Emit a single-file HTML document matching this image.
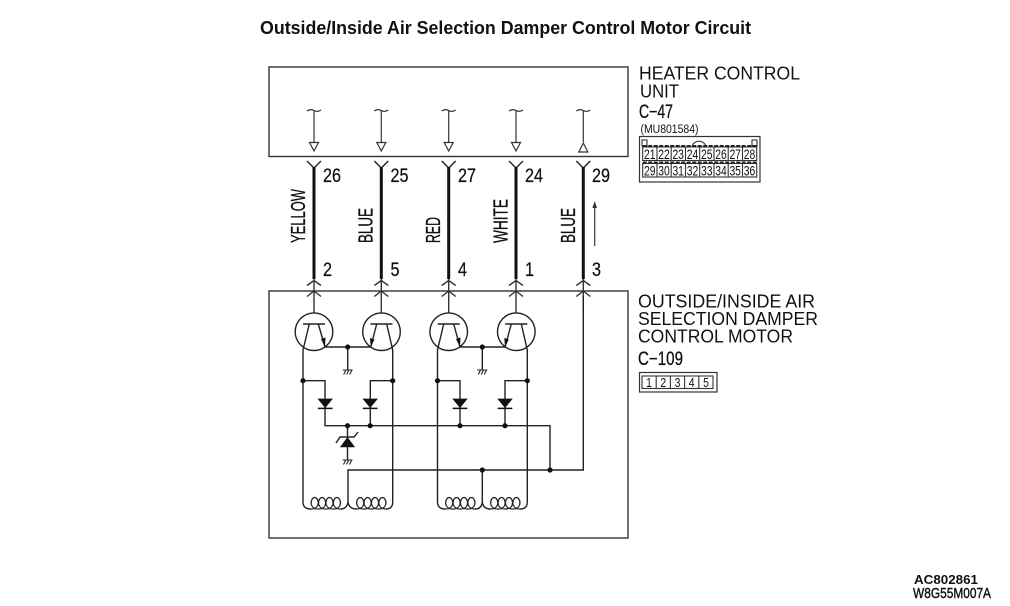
<!DOCTYPE html>
<html><head><meta charset="utf-8"><style>
html,body{margin:0;padding:0;background:#fff;width:1010px;height:606px;overflow:hidden}
svg{display:block}
text{font-family:"Liberation Sans",sans-serif;fill:#111}
.n{font-size:19px;stroke:#111;stroke-width:.25}
.s{font-size:13.5px}
.d{font-size:13px}
.l{font-size:18px}
.c{font-size:20.5px;stroke:#111;stroke-width:.3}
</style></head><body>
<svg width="1010" height="606" viewBox="0 0 1010 606" xmlns="http://www.w3.org/2000/svg">
<defs>
<g id="sig" fill="none" stroke="#333" stroke-width="1.2">
<path d="M-7,111 Q-3.5,108.5 0,110.5 Q3.5,112.5 7,110"/>
<path d="M0,111V142"/>
</g>
<path id="tdown" d="M-4.5,142.5H4.5L0,151Z" fill="#fff" stroke="#333" stroke-width="1.2"/>
<g id="wire">
<path d="M-7,161L0,168L7,161" fill="none" stroke="#222" stroke-width="1.4"/>
<path d="M0,167V279" stroke="#111" stroke-width="3"/>
<path d="M-7,285.5L0,280.5L7,285.5M-7,296.5L0,291L7,296.5M0,279V313" fill="none" stroke="#333" stroke-width="1.4"/>
</g>
<g id="tr" fill="none" stroke="#222" stroke-width="1.4">
<circle cx="0" cy="331.7" r="18.8"/>
<path d="M-11,324H11"/>
</g>
<path id="dio" d="M-7,399H7L0,407.5Z M-7,408H7V408.8H-7Z" fill="#111" stroke="#111" stroke-width=".7"/>
<g id="gnd" stroke="#222" stroke-width="1.1" fill="none">
<path d="M-5,0H5M-4,4.5L-2,0.5M-1,4.5L1,0.5M2,4.5L4,0.5"/>
</g>
<path id="coil" fill="none" stroke="#222" stroke-width="1.3" d="M0,509C10,509 8,497.5 3.7,497.5C-.6,497.5 -2.6,509 7.4,509C17.4,509 15.4,497.5 11.1,497.5C6.8,497.5 4.8,509 14.8,509C24.8,509 22.8,497.5 18.5,497.5C14.2,497.5 12.2,509 22.2,509C32.2,509 30.2,497.5 25.9,497.5C21.6,497.5 19.6,509 29.6,509"/>
</defs>

<text x="260" y="34" font-size="18" font-weight="bold" textLength="491" lengthAdjust="spacingAndGlyphs">Outside/Inside Air Selection Damper Control Motor Circuit</text>

<!-- boxes -->
<rect x="269" y="67" width="359" height="89.5" fill="none" stroke="#333" stroke-width="1.4"/>
<rect x="269" y="291" width="359" height="247" fill="none" stroke="#333" stroke-width="1.4"/>

<!-- signal arrows -->
<use href="#sig" x="314"/><use href="#tdown" x="314"/>
<use href="#sig" x="381.3"/><use href="#tdown" x="381.3"/>
<use href="#sig" x="448.7"/><use href="#tdown" x="448.7"/>
<use href="#sig" x="516"/><use href="#tdown" x="516"/>
<use href="#sig" x="583.3"/>
<path d="M583.3,143L587.8,152H578.8Z" fill="#fff" stroke="#333" stroke-width="1.2"/>

<!-- wires -->
<use href="#wire" x="314"/><use href="#wire" x="381.3"/><use href="#wire" x="448.7"/><use href="#wire" x="516"/><use href="#wire" x="583.3"/>

<!-- pin numbers -->
<text class="n" x="323" y="182" textLength="18" lengthAdjust="spacingAndGlyphs">26</text>
<text class="n" x="390.5" y="182" textLength="18" lengthAdjust="spacingAndGlyphs">25</text>
<text class="n" x="458" y="182" textLength="18" lengthAdjust="spacingAndGlyphs">27</text>
<text class="n" x="525" y="182" textLength="18" lengthAdjust="spacingAndGlyphs">24</text>
<text class="n" x="592" y="182" textLength="18" lengthAdjust="spacingAndGlyphs">29</text>
<text class="n" x="323" y="276" textLength="9" lengthAdjust="spacingAndGlyphs">2</text>
<text class="n" x="390.5" y="276" textLength="9" lengthAdjust="spacingAndGlyphs">5</text>
<text class="n" x="458" y="276" textLength="9" lengthAdjust="spacingAndGlyphs">4</text>
<text class="n" x="525" y="276" textLength="9" lengthAdjust="spacingAndGlyphs">1</text>
<text class="n" x="592" y="276" textLength="9" lengthAdjust="spacingAndGlyphs">3</text>

<!-- wire colours -->
<text class="c" transform="translate(305,243) rotate(-90)" textLength="54" lengthAdjust="spacingAndGlyphs">YELLOW</text>
<text class="c" transform="translate(372.5,243) rotate(-90)" textLength="35" lengthAdjust="spacingAndGlyphs">BLUE</text>
<text class="c" transform="translate(440,243) rotate(-90)" textLength="26" lengthAdjust="spacingAndGlyphs">RED</text>
<text class="c" transform="translate(507.5,243) rotate(-90)" textLength="44" lengthAdjust="spacingAndGlyphs">WHITE</text>
<text class="c" transform="translate(575,243) rotate(-90)" textLength="35" lengthAdjust="spacingAndGlyphs">BLUE</text>

<!-- direction arrow -->
<path d="M594.7,246V204" stroke="#333" stroke-width="1.2"/>
<path d="M594.7,201L597,208H592.4Z" fill="#333"/>

<!-- transistors -->
<use href="#tr" x="314"/><use href="#tr" x="381.5"/><use href="#tr" x="448.7"/><use href="#tr" x="516.3"/>

<g fill="none" stroke="#222" stroke-width="1.4">
<!-- left pair -->
<path d="M309.3,324L303,350V502Q303,509 311,509"/>
<path d="M318.3,324L325,347H370.7L376.7,324"/>
<path d="M386.7,324L392.7,350V502Q392.7,509 386,509"/>
<path d="M347.7,347V370"/>
<path d="M303,380.7H325V425.7H370"/>
<path d="M392.7,380.7H370.3V425.7"/>
<path d="M340.6,509Q347,509 348,502Q349,509 356.5,509"/>
<!-- right pair -->
<path d="M443.7,324L437.5,350V502Q437.5,509 445.5,509"/>
<path d="M453.7,324L460,347H505L511.3,324"/>
<path d="M521.3,324L527.3,350V502Q527.3,509 520,509"/>
<path d="M482.3,347V370"/>
<path d="M437.5,380.7H460V425.7"/>
<path d="M527.3,380.7H505V425.7"/>
<path d="M475.1,509Q481.5,509 482.3,502Q483,509 490.5,509"/>
<!-- bus -->
<path d="M370,425.7H550V470"/>
<path d="M348,502V470H583.3V296"/>
<path d="M482.3,470V502"/>
<path d="M347.5,426V437M347.5,447V460"/>
<path d="M336,443L340,437H354L358,432"/>
</g>

<!-- transistor emitter arrows -->
<path d="M325,347L321,339L325.5,337.5Z" fill="#111"/>
<path d="M370.7,347L370,338L374.5,339.5Z" fill="#111"/>
<path d="M460,347L456,339L460.5,337.5Z" fill="#111"/>
<path d="M505,347L504.3,338L508.8,339.5Z" fill="#111"/>

<!-- diodes -->
<use href="#dio" x="325.2"/><use href="#dio" x="370.2"/><use href="#dio" x="460"/><use href="#dio" x="505"/>
<path d="M347.5,437.5L354.5,447H340.5Z" fill="#111" stroke="#111" stroke-width=".6"/>

<!-- grounds -->
<use href="#gnd" x="347.7" y="370"/>
<use href="#gnd" x="482.3" y="370"/>
<use href="#gnd" x="347.5" y="460"/>

<!-- coils -->
<use href="#coil" x="311"/><use href="#coil" x="356.5"/>
<use href="#coil" x="445.5"/><use href="#coil" x="490.5"/>

<!-- junction dots -->
<g fill="#111">
<circle cx="347.7" cy="347" r="2.6"/><circle cx="482.3" cy="347" r="2.6"/>
<circle cx="303" cy="380.7" r="2.6"/><circle cx="392.7" cy="380.7" r="2.6"/>
<circle cx="437.5" cy="380.7" r="2.6"/><circle cx="527.3" cy="380.7" r="2.6"/>
<circle cx="347.5" cy="425.7" r="2.6"/><circle cx="370.2" cy="425.7" r="2.6"/>
<circle cx="460" cy="425.7" r="2.6"/><circle cx="505" cy="425.7" r="2.6"/>
<circle cx="482.3" cy="470" r="2.6"/><circle cx="550" cy="470" r="2.6"/>
</g>

<!-- right labels -->
<text class="l" x="639" y="79.5" textLength="161" lengthAdjust="spacingAndGlyphs">HEATER CONTROL</text>
<text class="l" x="640" y="97.5" textLength="39" lengthAdjust="spacingAndGlyphs">UNIT</text>
<text x="639" y="118" font-size="19" stroke="#111" stroke-width=".3" textLength="34" lengthAdjust="spacingAndGlyphs">C−47</text>
<text x="640.5" y="133" font-size="11.5" textLength="58" lengthAdjust="spacingAndGlyphs">(MU801584)</text>

<!-- C-47 connector -->
<rect x="639.5" y="136.5" width="120.5" height="45.5" fill="none" stroke="#333" stroke-width="1.2"/>
<g fill="none" stroke="#333" stroke-width="1.1">
<rect x="642" y="140" width="5" height="6"/><rect x="752" y="140" width="5" height="6"/>
<path d="M692,146A7.5,7.5 0 0 1 706,146"/>
<rect x="642.7" y="147" width="114" height="13.5"/>
<rect x="642.7" y="163.5" width="114" height="13.5"/>
<path d="M657,147V160.5M671.2,147V160.5M685.5,147V160.5M699.7,147V160.5M714,147V160.5M728.2,147V160.5M742.5,147V160.5"/>
<path d="M657,163.5V177M671.2,163.5V177M685.5,163.5V177M699.7,163.5V177M714,163.5V177M728.2,163.5V177M742.5,163.5V177"/>
</g>
<path d="M642.7,146H756.7M642.7,162.5H756.7" stroke="#222" stroke-width="2" stroke-dasharray="4 1.5"/>
<g text-anchor="middle">
<text class="s" x="649.8" y="159" textLength="11.5" lengthAdjust="spacingAndGlyphs">21</text><text class="s" x="664" y="159" textLength="11.5" lengthAdjust="spacingAndGlyphs">22</text><text class="s" x="678.2" y="159" textLength="11.5" lengthAdjust="spacingAndGlyphs">23</text><text class="s" x="692.5" y="159" textLength="11.5" lengthAdjust="spacingAndGlyphs">24</text><text class="s" x="706.8" y="159" textLength="11.5" lengthAdjust="spacingAndGlyphs">25</text><text class="s" x="721" y="159" textLength="11.5" lengthAdjust="spacingAndGlyphs">26</text><text class="s" x="735.2" y="159" textLength="11.5" lengthAdjust="spacingAndGlyphs">27</text><text class="s" x="749.5" y="159" textLength="11.5" lengthAdjust="spacingAndGlyphs">28</text>
<text class="s" x="649.8" y="175.5" textLength="11.5" lengthAdjust="spacingAndGlyphs">29</text><text class="s" x="664" y="175.5" textLength="11.5" lengthAdjust="spacingAndGlyphs">30</text><text class="s" x="678.2" y="175.5" textLength="11.5" lengthAdjust="spacingAndGlyphs">31</text><text class="s" x="692.5" y="175.5" textLength="11.5" lengthAdjust="spacingAndGlyphs">32</text><text class="s" x="706.8" y="175.5" textLength="11.5" lengthAdjust="spacingAndGlyphs">33</text><text class="s" x="721" y="175.5" textLength="11.5" lengthAdjust="spacingAndGlyphs">34</text><text class="s" x="735.2" y="175.5" textLength="11.5" lengthAdjust="spacingAndGlyphs">35</text><text class="s" x="749.5" y="175.5" textLength="11.5" lengthAdjust="spacingAndGlyphs">36</text>
</g>

<text class="l" x="638" y="307.5" textLength="177" lengthAdjust="spacingAndGlyphs">OUTSIDE/INSIDE AIR</text>
<text class="l" x="638" y="325" textLength="180" lengthAdjust="spacingAndGlyphs">SELECTION DAMPER</text>
<text class="l" x="638" y="342.5" textLength="155" lengthAdjust="spacingAndGlyphs">CONTROL MOTOR</text>
<text x="638" y="365" font-size="19" stroke="#111" stroke-width=".3" textLength="45" lengthAdjust="spacingAndGlyphs">C−109</text>

<!-- C-109 connector -->
<rect x="639.5" y="372.5" width="77.5" height="19.5" fill="none" stroke="#333" stroke-width="1.2"/>
<rect x="642" y="376" width="71" height="12.5" fill="none" stroke="#333" stroke-width="1.1"/>
<path d="M656.2,376V388.5M670.4,376V388.5M684.6,376V388.5M698.8,376V388.5" stroke="#333" stroke-width="1.1"/>
<g text-anchor="middle">
<text class="d" x="649" y="387" textLength="5.8" lengthAdjust="spacingAndGlyphs">1</text><text class="d" x="663.3" y="387" textLength="5.8" lengthAdjust="spacingAndGlyphs">2</text><text class="d" x="677.5" y="387" textLength="5.8" lengthAdjust="spacingAndGlyphs">3</text><text class="d" x="691.7" y="387" textLength="5.8" lengthAdjust="spacingAndGlyphs">4</text><text class="d" x="706" y="387" textLength="5.8" lengthAdjust="spacingAndGlyphs">5</text>
</g>

<!-- footer -->
<text x="914" y="584" font-size="13" font-weight="bold" textLength="64" lengthAdjust="spacingAndGlyphs">AC802861</text>
<text x="913" y="598" font-size="14.5" textLength="78" lengthAdjust="spacingAndGlyphs" stroke="#111" stroke-width=".4">W8G55M007A</text>
</svg>
</body></html>
